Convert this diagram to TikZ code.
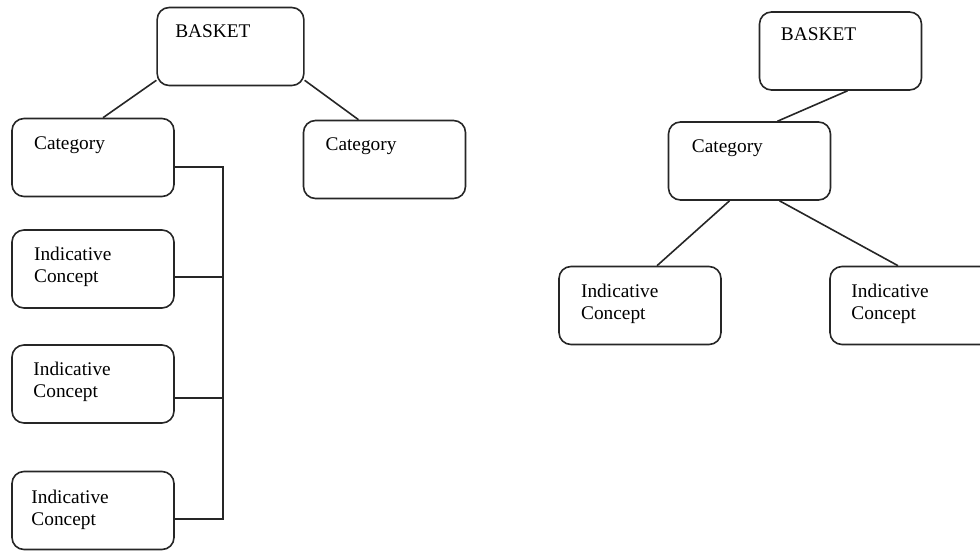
\documentclass[tikz,border=0pt]{standalone}
\usepackage{fontspec}
\setmainfont{Liberation Serif}
\usetikzlibrary{positioning}

\tikzset{
  box/.style={draw=black!85, rounded corners=9pt, line width=1.2pt, minimum width=121.5pt, minimum height=58.5pt, inner sep=0pt},
  txt/.style={inner sep=0pt, align=left, text=black, font=\fontsize{14.5}{16.5}\selectfont}
}

\begin{document}
\begin{tikzpicture}[x=0.75pt,y=-0.75pt]

        \useasboundingbox (0,0) rectangle (980,550);

        \begin{scope}[every node/.style={box}]
          \node[minimum width=110pt] (b1) at (230.5,46.5) {};
          \node (c1) at (93,157.5)    {};
          \node (c2) at (384.5,159.5) {};
          \node (i1) at (93,269)      {};
          \node (i2) at (93,384)      {};
          \node (i3) at (93,510.5)    {};
          \node (b2) at (840.5,51)    {};
          \node (c3) at (749.5,161)   {};
          \node (i4) at (640,305.5)   {};
          \node (i5) at (911,305.5)   {};
        \end{scope}

        \begin{scope}[every node/.style={txt}]
          \node[below right=13.5pt and 14pt of b1.north west] (tb1) {BASKET};
          \node[below right=14pt and 17pt of c1.north west]   (tc1) {Category};
          \node[below right=13pt and 17pt of c2.north west]   (tc2) {Category};
          \node[below right=13.5pt and 17pt of i1.north west] (ti1) {Indicative\\Concept};
          \node[below right=13pt and 16.5pt of i2.north west] (ti2) {Indicative\\Concept};
          \node[below right=14pt and 15pt of i3.north west]   (ti3) {Indicative\\Concept};
          \node[below right=12pt and 16.5pt of b2.north west] (tb2) {BASKET};
          \node[below right=13.5pt and 18pt of c3.north west] (tc3) {Category};
          \node[below right=13.5pt and 17pt of i4.north west] (ti4) {Indicative\\Concept};
          \node[below right=13.5pt and 16.5pt of i5.north west] (ti5) {Indicative\\Concept};
        \end{scope}

        \coordinate (j0) at (223,167);
        \coordinate (j1) at (223,277);
        \coordinate (j2) at (223,398);
        \coordinate (j3) at (223,519);

        \begin{scope}[every edge/.style={draw=black!85, line width=1.2pt}]
          \path ([shift={(0,-6)}]b1.south west) edge ([shift={(10,0)}]c1.north);
          \path ([shift={(0,-6)}]b1.south east) edge ([shift={(-26,0)}]c2.north);
          \path (i1.east |- j1) edge (j1);
          \path (i2.east |- j2) edge (j2);
          \path ([shift={(7,0)}]b2.south)   edge ([shift={(28,0)}]c3.north);
          \path ([shift={(-20,0)}]c3.south) edge ([shift={(17,0)}]i4.north);
          \path ([shift={(30,0)}]c3.south)  edge ([shift={(-13,0)}]i5.north);
        \end{scope}
        \draw[draw=black!85, line width=1.2pt] (c1.east |- j0) -- (j0) -- (j3) -- (i3.east |- j3);

      \end{tikzpicture}
\end{document}
